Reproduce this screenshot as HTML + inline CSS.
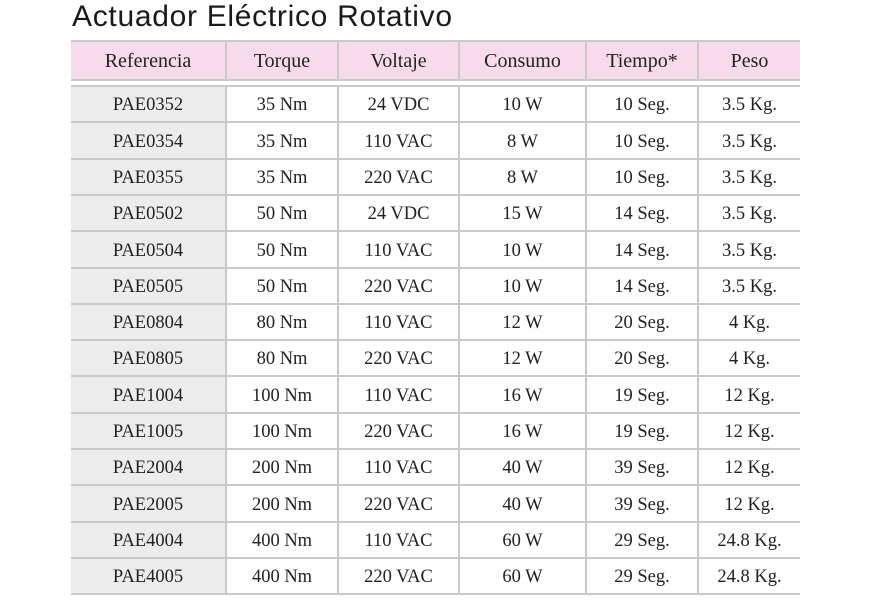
<!DOCTYPE html>
<html><head><meta charset="utf-8"><style>
body{margin:0;width:870px;height:601px;background:#fff;position:relative;overflow:hidden;font-family:"Liberation Serif",serif;color:#222}
#title{position:absolute;left:72px;top:0px;font-family:"Liberation Sans",sans-serif;font-size:30px;color:#1a1a1a;white-space:nowrap;letter-spacing:0.7px}
.c{position:absolute;display:flex;align-items:center;justify-content:center;font-size:18.5px;box-sizing:border-box;border-right:2px solid #c9c9c9;border-bottom:2px solid #c9c9c9;padding-top:3px}
.h{background:#f7dbea;font-size:20px;border-top:2px solid #c9c9c9;padding-top:1px}
.g{background:#ececec}
</style></head><body>
<div id="title">Actuador Eléctrico Rotativo</div>
<div id="t"></div>
<script>
const headers=["Referencia","Torque","Voltaje","Consumo","Tiempo*","Peso"];
const refs=["PAE0352","PAE0354","PAE0355","PAE0502","PAE0504","PAE0505","PAE0804","PAE0805","PAE1004","PAE1005","PAE2004","PAE2005","PAE4004","PAE4005"];
const torque=["35 Nm","35 Nm","35 Nm","50 Nm","50 Nm","50 Nm","80 Nm","80 Nm","100 Nm","100 Nm","200 Nm","200 Nm","400 Nm","400 Nm"];
const voltaje=["24 VDC","110 VAC","220 VAC","24 VDC","110 VAC","220 VAC","110 VAC","220 VAC","110 VAC","220 VAC","110 VAC","220 VAC","110 VAC","220 VAC"];
const consumo=["10 W","8 W","8 W","15 W","10 W","10 W","12 W","12 W","16 W","16 W","40 W","40 W","60 W","60 W"];
const tiempo=["10 Seg.","10 Seg.","10 Seg.","14 Seg.","14 Seg.","14 Seg.","20 Seg.","20 Seg.","19 Seg.","19 Seg.","39 Seg.","39 Seg.","29 Seg.","29 Seg."];
const peso=["3.5 Kg.","3.5 Kg.","3.5 Kg.","3.5 Kg.","3.5 Kg.","3.5 Kg.","4 Kg.","4 Kg.","12 Kg.","12 Kg.","12 Kg.","12 Kg.","24.8 Kg.","24.8 Kg."];
const cols=[refs,torque,voltaje,consumo,tiempo,peso];
const xs=[71,227,339,460,587,699,800];
const t=document.getElementById('t');
function cell(x,y,w,h,txt,cls){const d=document.createElement('div');d.className='c '+cls;d.style.left=x+'px';d.style.top=y+'px';d.style.width=w+'px';d.style.height=h+'px';d.textContent=txt;t.appendChild(d);return d;}
headers.forEach((hd,i)=>{
 const d=cell(xs[i],40,xs[i+1]-xs[i],41,hd,'h');
 
 
 if(i==5)d.style.borderRight='none';
});
const rh=36.3;
refs.forEach((r,j)=>{
 cols.forEach((col,i)=>{
  const y=Math.round(87+j*rh);
  const d=cell(xs[i],y-2,xs[i+1]-xs[i],Math.round(87+(j+1)*rh)-y+2,col[j],i==0?'g':'');
  
  
  d.style.borderTop='2px solid #c9c9c9';
  if(j>0)d.style.borderTop='none',d.style.top=(y)+'px',d.style.height=(Math.round(87+(j+1)*rh)-y)+'px';
  if(i==5)d.style.borderRight='none';
 });
});
</script>
</body></html>
